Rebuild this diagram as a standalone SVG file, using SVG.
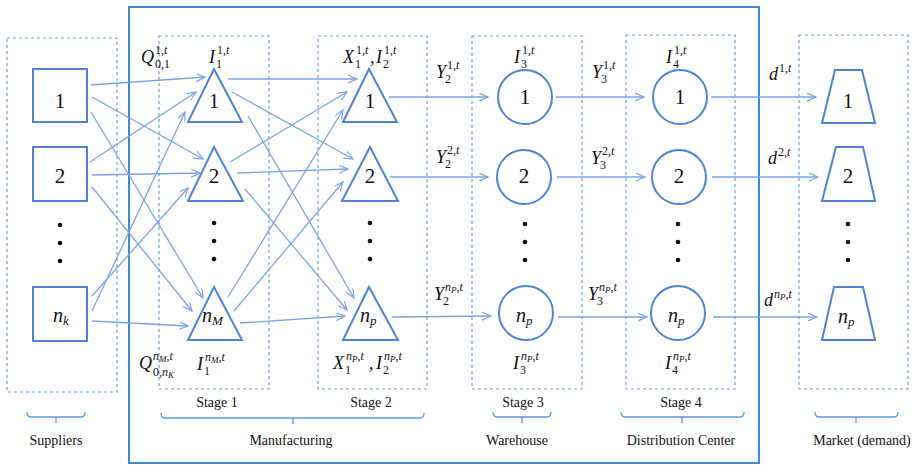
<svg xmlns="http://www.w3.org/2000/svg" width="916" height="465" viewBox="0 0 916 465" font-family="'Liberation Serif', 'Times New Roman', serif">
<defs>
<marker id="ar" markerUnits="userSpaceOnUse" markerWidth="12" markerHeight="10" refX="9" refY="4" orient="auto">
<path d="M0,0 L9,4 L0,8" fill="none" stroke="#7EA3E3" stroke-width="1.2"/>
</marker>
</defs>
<style>
.bg{fill:#fff}
.outer{fill:none;stroke:#3D8BD0;stroke-width:2}
.dash{fill:none;stroke:#6A9FE0;stroke-width:1.2;stroke-dasharray:3 3}
.shape{fill:#fff;stroke:#5182D6;stroke-width:2}
.con line{stroke:#7EA3E3;stroke-width:1.3;marker-end:url(#ar)}
.brace{fill:none;stroke:#5E98DE;stroke-width:1.3}
text{font-family:"Liberation Serif","Times New Roman",serif;fill:#111}
.num{font-size:21px;text-anchor:middle}
.nm{font-style:italic;font-size:20px}
.nsub{font-size:13px}
.m{font-style:italic;font-size:18px}
.s{font-size:12px}
.ss{font-size:9px}
.i{font-style:italic}
.lab{font-size:14px;text-anchor:middle}
.dot{fill:#111}
</style>
<rect class="bg" width="916" height="465"/>
<rect class="outer" x="129" y="7" width="630" height="456"/>
<g id="boxes">
<rect class="dash" x="7" y="38" width="110" height="354"/>
<rect class="dash" x="159" y="36" width="110" height="353"/>
<rect class="dash" x="318" y="36" width="109" height="353"/>
<rect class="dash" x="472" y="36" width="110" height="353"/>
<rect class="dash" x="626" y="35" width="109" height="354"/>
<rect class="dash" x="799" y="35" width="109" height="354"/>
</g>
<g id="connectors" class="con">
<line x1="91" y1="85" x2="205" y2="77"/>
<line x1="92" y1="97" x2="203" y2="159"/>
<line x1="91" y1="112" x2="203" y2="298"/>
<line x1="90" y1="162" x2="196" y2="92"/>
<line x1="92" y1="175" x2="200" y2="173"/>
<line x1="92" y1="187" x2="192" y2="311"/>
<line x1="92" y1="296" x2="188" y2="188"/>
<line x1="92" y1="311" x2="185" y2="112"/>
<line x1="92" y1="321" x2="188" y2="326"/>
<line x1="228" y1="79" x2="357" y2="79"/>
<line x1="232" y1="92" x2="353" y2="159"/>
<line x1="248" y1="116" x2="354" y2="298"/>
<line x1="230" y1="162" x2="347" y2="92"/>
<line x1="237" y1="173" x2="348" y2="169"/>
<line x1="245" y1="189" x2="347" y2="310"/>
<line x1="228" y1="297" x2="343" y2="110"/>
<line x1="234" y1="311" x2="343" y2="182"/>
<line x1="240" y1="323" x2="345" y2="316"/>
<line x1="389" y1="97" x2="488" y2="97"/>
<line x1="390" y1="177" x2="488" y2="177"/>
<line x1="392" y1="317" x2="491" y2="316"/>
<line x1="556" y1="97" x2="644" y2="97"/>
<line x1="557" y1="177" x2="645" y2="177"/>
<line x1="558" y1="317" x2="647" y2="317"/>
<line x1="711" y1="97" x2="816" y2="97"/>
<line x1="712" y1="177" x2="818" y2="177"/>
<line x1="713" y1="317" x2="817" y2="317"/>
</g>
<g id="sup1"><rect class="shape" x="33" y="69" width="54" height="53"/><text class="num" x="60" y="108">1</text></g>
<g id="sup2"><rect class="shape" x="33" y="147" width="54" height="54"/><text class="num" x="60" y="183">2</text></g>
<g id="supn"><rect class="shape" x="33" y="287" width="54" height="54"/><text class="nm" x="53" y="322">n<tspan class="nsub" dy="3">k</tspan></text></g>
<g id="m1"><polygon class="shape" points="214,69 242,122 188,122"/><text class="num" x="214" y="108">1</text></g>
<g id="m2"><polygon class="shape" points="214,147 243,201 188,201"/><text class="num" x="214" y="183">2</text></g>
<g id="mn"><polygon class="shape" points="214,287 242,340 188,340"/><text class="nm" x="202" y="322">n<tspan class="nsub" dy="3">M</tspan></text></g>
<g id="p1"><polygon class="shape" points="369,69 397,122 343,122"/><text class="num" x="370" y="108">1</text></g>
<g id="p2"><polygon class="shape" points="370,147 398,201 342,201"/><text class="num" x="370" y="183">2</text></g>
<g id="pn"><polygon class="shape" points="369,287 398,340 343,340"/><text class="nm" x="360" y="322">n<tspan class="nsub" dy="3">p</tspan></text></g>
<g id="w1"><circle class="shape" cx="525" cy="97" r="27"/><text class="num" x="525" y="104">1</text></g>
<g id="w2"><circle class="shape" cx="524" cy="177" r="27"/><text class="num" x="524" y="183">2</text></g>
<g id="wn"><circle class="shape" cx="526" cy="313" r="27"/><text class="nm" x="516" y="322">n<tspan class="nsub" dy="3">p</tspan></text></g>
<g id="d1"><circle class="shape" cx="680" cy="97" r="27"/><text class="num" x="680" y="104">1</text></g>
<g id="d2"><circle class="shape" cx="679" cy="177" r="27"/><text class="num" x="679" y="183">2</text></g>
<g id="dn"><circle class="shape" cx="678" cy="313" r="27"/><text class="nm" x="668" y="322">n<tspan class="nsub" dy="3">p</tspan></text></g>
<g id="k1"><polygon class="shape" points="835,70 862,70 875,123 822,123"/><text class="num" x="848" y="108">1</text></g>
<g id="k2"><polygon class="shape" points="836,147 863,147 875,201 822,201"/><text class="num" x="848" y="183">2</text></g>
<g id="kn"><polygon class="shape" points="834,287 863,287 875,340 822,340"/><text class="nm" x="838" y="323">n<tspan class="nsub" dy="3">p</tspan></text></g>
<g id="dots">
<circle class="dot" cx="60" cy="225" r="2.3"/><circle class="dot" cx="60" cy="243" r="2.3"/><circle class="dot" cx="60" cy="261" r="2.3"/>
<circle class="dot" cx="214" cy="223" r="2.3"/><circle class="dot" cx="214" cy="241" r="2.3"/><circle class="dot" cx="214" cy="259" r="2.3"/>
<circle class="dot" cx="370" cy="223" r="2.3"/><circle class="dot" cx="370" cy="241" r="2.3"/><circle class="dot" cx="370" cy="259" r="2.3"/>
<circle class="dot" cx="525" cy="224" r="2.3"/><circle class="dot" cx="525" cy="242" r="2.3"/><circle class="dot" cx="525" cy="260" r="2.3"/>
<circle class="dot" cx="678" cy="224" r="2.3"/><circle class="dot" cx="678" cy="242" r="2.3"/><circle class="dot" cx="678" cy="260" r="2.3"/>
<circle class="dot" cx="848" cy="224" r="2.3"/><circle class="dot" cx="848" cy="242" r="2.3"/><circle class="dot" cx="848" cy="260" r="2.3"/>
</g>
<g id="labels">
<text class="m" x="141" y="63">Q</text><text class="s" x="155" y="54">1,<tspan class="i">t</tspan></text><text class="s" x="155" y="68">0,1</text>
<text class="m" x="209" y="63">I</text><text class="s" x="217" y="54">1,<tspan class="i">t</tspan></text><text class="s" x="216" y="68">1</text>
<text class="m" x="343" y="63">X</text><text class="s" x="356" y="54">1,<tspan class="i">t</tspan></text><text class="s" x="355" y="68">1</text>
<text class="m" x="370" y="63">,</text>
<text class="m" x="376" y="63">I</text><text class="s" x="384" y="54">1,<tspan class="i">t</tspan></text><text class="s" x="383" y="68">2</text>
<text class="m" x="514" y="63">I</text><text class="s" x="522" y="54">1,<tspan class="i">t</tspan></text><text class="s" x="521" y="68">3</text>
<text class="m" x="666" y="63">I</text><text class="s" x="674" y="54">1,<tspan class="i">t</tspan></text><text class="s" x="673" y="68">4</text>
<text class="m" x="436" y="78">Y</text><text class="s" x="447" y="69">1,<tspan class="i">t</tspan></text><text class="s" x="445" y="83">2</text>
<text class="m" x="592" y="78">Y</text><text class="s" x="603" y="69">1,<tspan class="i">t</tspan></text><text class="s" x="601" y="83">3</text>
<text class="m" x="769" y="80">d</text><text class="s" x="779" y="72">1,<tspan class="i">t</tspan></text>
<text class="m" x="436" y="163">Y</text><text class="s" x="447" y="154">2,<tspan class="i">t</tspan></text><text class="s" x="445" y="168">2</text>
<text class="m" x="591" y="164">Y</text><text class="s" x="602" y="155">2,<tspan class="i">t</tspan></text><text class="s" x="600" y="169">3</text>
<text class="m" x="768" y="164">d</text><text class="s" x="778" y="156">2,<tspan class="i">t</tspan></text>
<text class="m" x="434" y="300">Y</text><text class="s" x="445" y="291"><tspan class="i">n</tspan><tspan class="ss i" dy="2">P</tspan><tspan dy="-2">,</tspan><tspan class="i">t</tspan></text><text class="s" x="443" y="305">2</text>
<text class="m" x="588" y="300">Y</text><text class="s" x="599" y="291"><tspan class="i">n</tspan><tspan class="ss i" dy="2">P</tspan><tspan dy="-2">,</tspan><tspan class="i">t</tspan></text><text class="s" x="597" y="305">3</text>
<text class="m" x="764" y="306">d</text><text class="s" x="774" y="298"><tspan class="i">n</tspan><tspan class="ss i" dy="2">P</tspan><tspan dy="-2">,</tspan><tspan class="i">t</tspan></text>
<text class="m" x="139" y="369">Q</text><text class="s" x="153" y="360"><tspan class="i">n</tspan><tspan class="ss i" dy="2">M</tspan><tspan dy="-2">,</tspan><tspan class="i">t</tspan></text><text class="s" x="153" y="376">0,<tspan class="i">n</tspan><tspan class="ss i" dy="2">K</tspan></text>
<text class="m" x="197" y="370">I</text><text class="s" x="205" y="361"><tspan class="i">n</tspan><tspan class="ss i" dy="2">M</tspan><tspan dy="-2">,</tspan><tspan class="i">t</tspan></text><text class="s" x="204" y="375">1</text>
<text class="m" x="333" y="369">X</text><text class="s" x="346" y="360"><tspan class="i">n</tspan><tspan class="ss i" dy="2">P</tspan><tspan dy="-2">,</tspan><tspan class="i">t</tspan></text><text class="s" x="345" y="374">1</text>
<text class="m" x="369" y="369">,</text>
<text class="m" x="376" y="369">I</text><text class="s" x="384" y="360"><tspan class="i">n</tspan><tspan class="ss i" dy="2">P</tspan><tspan dy="-2">,</tspan><tspan class="i">t</tspan></text><text class="s" x="383" y="374">2</text>
<text class="m" x="513" y="369">I</text><text class="s" x="521" y="360"><tspan class="i">n</tspan><tspan class="ss i" dy="2">P</tspan><tspan dy="-2">,</tspan><tspan class="i">t</tspan></text><text class="s" x="520" y="374">3</text>
<text class="m" x="665" y="369">I</text><text class="s" x="673" y="360"><tspan class="i">n</tspan><tspan class="ss i" dy="2">P</tspan><tspan dy="-2">,</tspan><tspan class="i">t</tspan></text><text class="s" x="672" y="374">4</text>
</g>
<g id="stages">
<text class="lab" x="217" y="407">Stage 1</text>
<text class="lab" x="371" y="407">Stage 2</text>
<text class="lab" x="523" y="407">Stage 3</text>
<text class="lab" x="681" y="407">Stage 4</text>
</g>
<g id="braces">
<path class="brace" d="M27,412 Q27,417 31,417 L81,417 Q85,417 85,412 M56,417 L56,423"/>
<path class="brace" d="M161,413 Q161,418 165,418 L420,418 Q424,418 424,413 M293,418 L293,424"/>
<path class="brace" d="M493,412 Q493,417 497,417 L547,417 Q551,417 551,412 M522,417 L522,423"/>
<path class="brace" d="M621,412 Q621,417 625,417 L740,417 Q744,417 744,412 M682,417 L682,423"/>
<path class="brace" d="M815,412 Q815,417 819,417 L894,417 Q898,417 898,412 M856,417 L856,423"/>
</g>
<g id="groups">
<text class="lab" x="56" y="445">Suppliers</text>
<text class="lab" x="291" y="445">Manufacturing</text>
<text class="lab" x="517" y="445">Warehouse</text>
<text class="lab" x="681" y="445">Distribution Center</text>
<text class="lab" x="862" y="445">Market (demand)</text>
</g>
</svg>
